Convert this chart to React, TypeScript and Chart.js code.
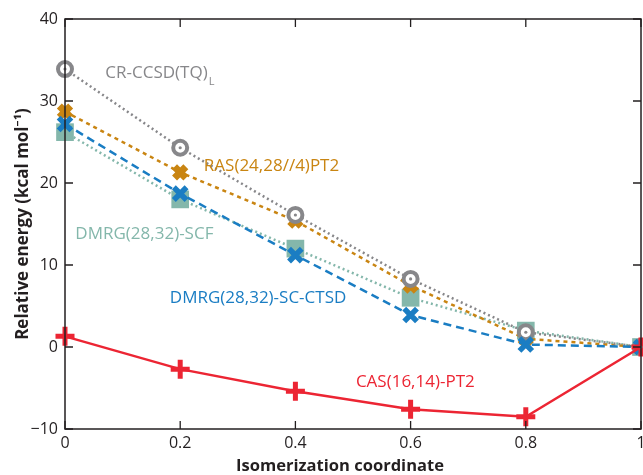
import React, { useEffect, useRef } from "react";
import { Chart, registerables } from "chart.js";

Chart.register(...registerables);

const xCoords = [0, 0.2, 0.4, 0.6, 0.8, 1];
const crCcsd = [33.9, 24.3, 16.1, 8.3, 1.8, 0];
const rasPt2 = [28.7, 21.3, 15.4, 7.5, 1.0, 0];
const dmrgScf = [26.2, 18.0, 12.0, 6.0, 2.0, 0];
const dmrgCtsd = [27.2, 18.7, 11.2, 3.9, 0.3, 0];
const casPt2 = [1.3, -2.7, -5.4, -7.6, -8.5, 0];

const seriesNames = ["CR-CCSD(TQ)", "RAS(24,28//4)PT2", "DMRG(28,32)-SCF", "DMRG(28,32)-SC-CTSD", "CAS(16,14)-PT2"];
const yTicks = [-10, 0, 10, 20, 30, 40];
const xTicks = [0, 0.2, 0.4, 0.6, 0.8, 1];
const xTickLabels = ["0", "0.2", "0.4", "0.6", "0.8", "1"];
const xTitle = "Isomerization coordinate";
const yTitle = "Relative energy (kcal mol\u207B\u00B9)";

const C_GRAY = "#87878a";
const C_ORANGE = "#c98512";
const C_TEAL = "#84b7ab";
const C_BLUE = "#1a7dc3";
const C_RED = "#ec2533";
const INK = "#231f20";
const FONT = "'Open Sans', 'Noto Sans', sans-serif";

const pts = (ys: number[]) => ys.map((y, i) => ({ x: xCoords[i], y }));

const framePlugin = {
  id: "frame",
  afterDatasetsDraw(chart: any) {
    const { ctx, chartArea: a, scales } = chart;
    const xs = scales.x, ys = scales.y;
    ctx.save();

    // centre dots of the gray circle markers
    const grayIdx = chart.data.datasets.findIndex((d: any) => d.label === seriesNames[0]);
    const meta = chart.getDatasetMeta(grayIdx);
    ctx.fillStyle = C_GRAY;
    meta.data.forEach((p: any) => {
      ctx.beginPath();
      ctx.arc(p.x, p.y, 1.6, 0, Math.PI * 2);
      ctx.fill();
    });

    ctx.strokeStyle = INK;
    ctx.lineWidth = 1.5;
    ctx.strokeRect(a.left, a.top, a.right - a.left, a.bottom - a.top);
    ctx.lineWidth = 1.3;
    const L = 8;
    ctx.beginPath();
    xTicks.forEach((t) => {
      const px = xs.getPixelForValue(t);
      ctx.moveTo(px, a.bottom);
      ctx.lineTo(px, a.bottom - L);
      ctx.moveTo(px, a.top);
      ctx.lineTo(px, a.top + L);
    });
    yTicks.forEach((t) => {
      const py = ys.getPixelForValue(t);
      ctx.moveTo(a.left, py);
      ctx.lineTo(a.left + L, py);
      ctx.moveTo(a.right, py);
      ctx.lineTo(a.right - L, py);
    });
    ctx.stroke();

    // x tick labels
    ctx.fillStyle = INK;
    ctx.font = `16px ${FONT}`;
    ctx.textAlign = "center";
    ctx.textBaseline = "middle";
    xTicks.forEach((t, i) => {
      ctx.fillText(xTickLabels[i], xs.getPixelForValue(t), a.bottom + 14);
    });

    // x title (fit to reference width)
    ctx.font = `bold 17px ${FONT}`;
    const xw = ctx.measureText(xTitle).width;
    const xfs = Math.min(18, 17 * 208 / xw);
    ctx.font = `bold ${xfs.toFixed(2)}px ${FONT}`;
    ctx.fillText(xTitle, 340, a.bottom + 37);

    // y title
    ctx.font = `bold 16px ${FONT}`;
    const yw0 = ctx.measureText(yTitle).width;
    const yfs = Math.min(17, 16 * 258 / yw0);
    ctx.font = `bold ${yfs.toFixed(2)}px ${FONT}`;
    ctx.save();
    ctx.translate(23, (a.top + a.bottom) / 2);
    ctx.rotate(-Math.PI / 2);
    ctx.textAlign = "center";
    ctx.textBaseline = "middle";
    ctx.fillText(yTitle, 0, 0);
    ctx.restore();

    // series labels
    ctx.font = `17px ${FONT}`;
    ctx.textAlign = "left";
    ctx.textBaseline = "middle";
    const lab = (text: string, color: string, xv: number, yv: number) => {
      ctx.fillStyle = color;
      ctx.fillText(text, xs.getPixelForValue(xv), ys.getPixelForValue(yv));
    };
    lab(seriesNames[0], C_GRAY, 0.07, 33.4);
    const w0 = ctx.measureText(seriesNames[0]).width;
    ctx.font = `11px ${FONT}`;
    ctx.fillStyle = C_GRAY;
    ctx.fillText("L", xs.getPixelForValue(0.07) + w0 + 1, ys.getPixelForValue(32.3));
    ctx.font = `17px ${FONT}`;
    lab(seriesNames[1], C_ORANGE, 0.241, 22.0);
    lab(seriesNames[2], C_TEAL, 0.018, 13.8);
    lab(seriesNames[3], C_BLUE, 0.182, 6.0);
    lab(seriesNames[4], C_RED, 0.505, -4.3);
    ctx.restore();
  },
};

export default function App() {
  const ref = useRef<HTMLCanvasElement>(null);
  useEffect(() => {
    if (!ref.current) return;
    const chart = new Chart(ref.current, {
      type: "line",
      data: {
        datasets: [
          {
            label: seriesNames[4], data: pts(casPt2), borderColor: C_RED, backgroundColor: C_RED,
            borderWidth: 2.5, pointStyle: "cross", pointRadius: 9.5, pointBorderWidth: 5, order: 1, clip: false,
          },
          {
            label: seriesNames[3], data: pts(dmrgCtsd), borderColor: C_BLUE, backgroundColor: C_BLUE,
            borderWidth: 2.5, borderDash: [8, 5], pointStyle: "crossRot", pointRadius: 9, pointBorderWidth: 5.5, order: 2, clip: false,
          },
          {
            label: seriesNames[0], data: pts(crCcsd), borderColor: C_GRAY, backgroundColor: "#ffffff",
            borderWidth: 2.5, borderDash: [2, 3], pointStyle: "circle", pointRadius: 7, pointBorderWidth: 4, order: 3, clip: false,
          },
          {
            label: seriesNames[1], data: pts(rasPt2), borderColor: C_ORANGE, backgroundColor: C_ORANGE,
            borderWidth: 2.5, borderDash: [4, 4], pointStyle: "crossRot", pointRadius: 8, pointBorderWidth: 7, order: 4, clip: false,
          },
          {
            label: seriesNames[2], data: pts(dmrgScf), borderColor: C_TEAL, backgroundColor: C_TEAL,
            borderWidth: 2.5, borderDash: [2, 3], pointStyle: "rect", pointRadius: 12.5, pointBorderWidth: 0, order: 5, clip: false,
          },
        ],
      },
      options: {
        animation: false,
        responsive: false,
        maintainAspectRatio: false,
        layout: { autoPadding: false, padding: { top: 19, right: 2, left: 0, bottom: 0 } },
        plugins: { legend: { display: false }, tooltip: { enabled: false } },
        scales: {
          x: {
            type: "linear", min: 0, max: 1,
            grid: { display: false, drawTicks: false },
            border: { display: false },
            afterFit: (s: any) => { s.height = 46; s.paddingRight = 0; s.paddingLeft = 0; },
            ticks: { display: false },
            title: { display: false },
          },
          y: {
            type: "linear", min: -10, max: 40,
            grid: { display: false, drawTicks: false },
            border: { display: false },
            afterBuildTicks: (s: any) => { s.ticks = yTicks.map((v) => ({ value: v })); },
            afterFit: (s: any) => { s.width = 65; s.paddingTop = 0; s.paddingBottom = 0; },
            ticks: {
              padding: 7, color: INK,
              font: { family: FONT, size: 16 },
              callback: (v: any) => String(v).replace("-", "\u2212"),
            },
          },
        },
      },
      plugins: [framePlugin],
    } as any);
    return () => chart.destroy();
  }, []);
  return (
    <div style={{ position: "fixed", left: 0, top: 0, width: 643, height: 475, background: "#fff" }}>
      <canvas ref={ref} width={643} height={475} style={{ width: 643, height: 475, display: "block" }} />
    </div>
  );
}
